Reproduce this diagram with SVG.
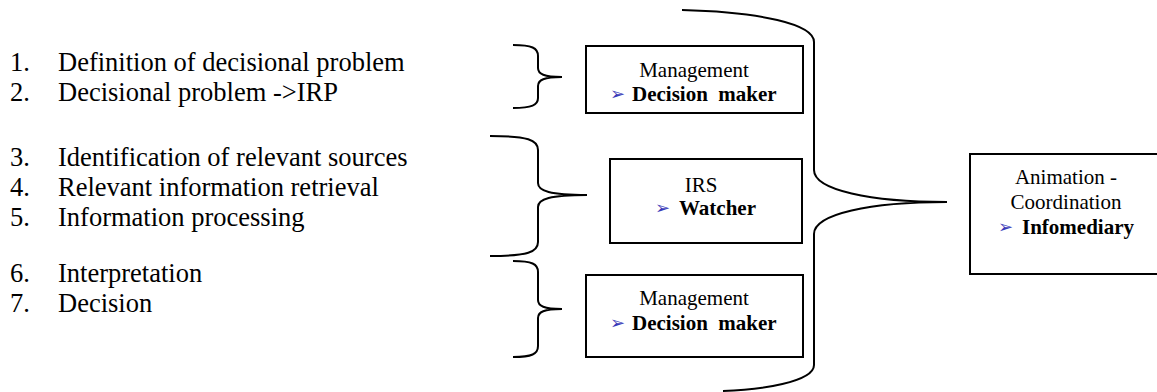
<svg xmlns="http://www.w3.org/2000/svg" width="1157" height="392" viewBox="0 0 1157 392">
<style>
.lst{font-family:"Liberation Serif","Times New Roman",serif;font-size:26.5px;fill:#000}
.bx{fill:#fff;stroke:#000;stroke-width:2}
.t{font-family:"Liberation Serif","Times New Roman",serif;font-size:21px;fill:#000}
.c{text-anchor:middle}
.b{font-weight:bold}
.ar{font-family:"DejaVu Sans",sans-serif;font-size:18px;fill:#3a3ab8}
.br{fill:none;stroke:#000;stroke-width:2}
</style>
<rect width="1157" height="392" fill="#fff"/>
<g id="list">
<text class="lst" x="10" y="71">1.</text><text class="lst" x="58" y="71">Definition of decisional problem</text>
<text class="lst" x="10" y="101">2.</text><text class="lst" x="58" y="101">Decisional problem -&gt;IRP</text>
<text class="lst" x="10" y="166">3.</text><text class="lst" x="58" y="166">Identification of relevant sources</text>
<text class="lst" x="10" y="196">4.</text><text class="lst" x="58" y="196">Relevant information retrieval</text>
<text class="lst" x="10" y="226">5.</text><text class="lst" x="58" y="226">Information processing</text>
<text class="lst" x="10" y="282">6.</text><text class="lst" x="58" y="282">Interpretation</text>
<text class="lst" x="10" y="312">7.</text><text class="lst" x="58" y="312">Decision</text>
</g>
<g id="connectors">
<path class="br" d="M513,45 C532,45 538,48 538,56 L538,68 C538,74 544,77 562,77 C544,77 538,80 538,86 L538,98 C538,105 532,108 513,108"/>
<path class="br" d="M490,136 C528,136 538,140 538,150 L538,183 C538,191 550,195 587,195 C550,195 538,199 538,207 L538,242 C538,252 528,256 490,256"/>
<path class="br" d="M513,261 C532,261 538,264 538,272 L538,300 C538,306 544,309 562,309 C544,309 538,312 538,318 L538,346 C538,354 532,357 513,357"/>
<path class="br" d="M682,10 C760,12 814,24 814,42 L814,170 C814,190 870,202 947,202 C870,202 814,214 814,234 L814,365 C814,382 760,390 723,391"/>
</g>
<g id="mgmt1">
<rect class="bx" x="586" y="46" width="217" height="67"/>
<text class="t c" x="694" y="77">Management</text>
<text class="ar" x="610" y="100">➢</text>
<text class="t b" x="632" y="101">Decision&#160; maker</text>
</g>
<g id="irs">
<rect class="bx" x="610" y="159" width="192" height="84"/>
<text class="t c" x="701" y="192">IRS</text>
<text class="ar" x="655" y="214">➢</text>
<text class="t b" x="679" y="215">Watcher</text>
</g>
<g id="mgmt2">
<rect class="bx" x="586" y="275" width="217" height="82"/>
<text class="t c" x="694" y="305">Management</text>
<text class="ar" x="610" y="329">➢</text>
<text class="t b" x="632" y="330">Decision&#160; maker</text>
</g>
<g id="infomediary">
<rect class="bx" x="970" y="154" width="190" height="120"/>
<text class="t c" x="1066" y="184">Animation -</text>
<text class="t c" x="1066" y="209">Coordination</text>
<text class="ar" x="998" y="233">➢</text>
<text class="t b" x="1022" y="234">Infomediary</text>
</g>
</svg>
